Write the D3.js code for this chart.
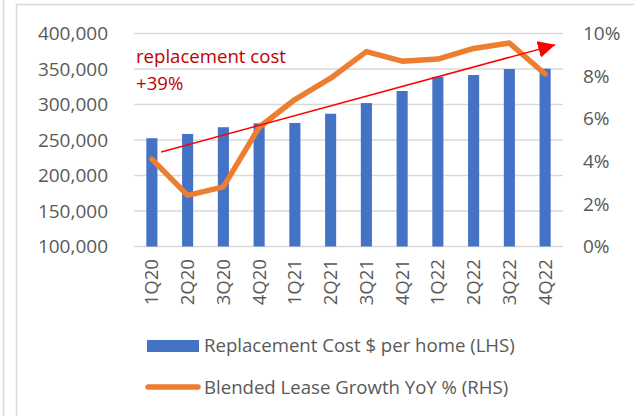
<!DOCTYPE html>
<html>
<head>
<meta charset="utf-8">
<script src="https://cdn.jsdelivr.net/npm/d3@7"></script>
<style>
  body { margin: 0; background: #fff; }
  text { font-family: "Open Sans", sans-serif; }
</style>
</head>
<body>
<svg id="chart" width="634" height="416"></svg>
<script>
const quarters = ["1Q20", "2Q20", "3Q20", "4Q20", "1Q21", "2Q21", "3Q21", "4Q21", "1Q22", "2Q22", "3Q22", "4Q22"];
const replacementCost = [252500, 258500, 268000, 273500, 274000, 287000, 302000, 319000, 339000, 341500, 350000, 350500];
const leaseGrowth = [4.1, 2.4, 2.8, 5.6, 6.9, 7.9, 9.15, 8.7, 8.8, 9.3, 9.55, 8.1];
const leftTicks = [100000, 150000, 200000, 250000, 300000, 350000, 400000];
const rightTicks = [0, 2, 4, 6, 8, 10];
// trend arrow: [quarter index, replacement cost]
const arrowFrom = [0.26, 233000];
const arrowTo = [11.28, 384000];

const plot = { left: 134, right: 563, top: 33.5, bottom: 246.5 };
const grey = "#595959";
const fs = 18.6;

const svg = d3.select("#chart");

// frame lines
svg.append("line").attr("x1", 3.5).attr("x2", 3.5).attr("y1", 0).attr("y2", 416)
  .attr("stroke", "#d9d9d9").attr("stroke-width", 1.5);
svg.append("line").attr("x1", 16.5).attr("x2", 16.5).attr("y1", 4).attr("y2", 416)
  .attr("stroke", "#d9d9d9").attr("stroke-width", 1.5);
svg.append("line").attr("x1", 16).attr("x2", 634).attr("y1", 4.5).attr("y2", 4.5)
  .attr("stroke", "#d9d9d9").attr("stroke-width", 1.5);

const x = d3.scaleBand().domain(quarters).range([plot.left, plot.right]).paddingInner(0.69).paddingOuter(0.345);
const xc = d => x(d) + x.bandwidth() / 2;
const xIdx = d3.scaleLinear().domain([0, quarters.length - 1]).range([xc(quarters[0]), xc(quarters[quarters.length - 1])]);
const yL = d3.scaleLinear().domain([100000, 400000]).range([plot.bottom, plot.top]);
const yR = d3.scaleLinear().domain([0, 10]).range([plot.bottom, plot.top]);

// gridlines
svg.append("g").selectAll("line").data(leftTicks).enter().append("line")
  .attr("x1", plot.left).attr("x2", plot.right)
  .attr("y1", d => yL(d)).attr("y2", d => yL(d))
  .attr("stroke", "#d9d9d9").attr("stroke-width", 1.5);

// left axis labels
svg.append("g").selectAll("text").data(leftTicks).enter().append("text")
  .attr("x", 108).attr("y", d => yL(d)).attr("dy", "0.35em")
  .attr("text-anchor", "end").attr("font-size", 19).attr("fill", grey)
  .text(d3.format(","));

// right axis labels
svg.append("g").selectAll("text").data(rightTicks).enter().append("text")
  .attr("x", 583).attr("y", d => yR(d)).attr("dy", "0.35em")
  .attr("font-size", 19).attr("fill", grey)
  .text(d => d + "%");

// bars
svg.append("g").selectAll("rect").data(quarters).enter().append("rect")
  .attr("x", d => x(d))
  .attr("width", x.bandwidth())
  .attr("y", (d, i) => yL(replacementCost[i]))
  .attr("height", (d, i) => plot.bottom - yL(replacementCost[i]))
  .attr("fill", "#4472C4");

// x labels
svg.append("g").selectAll("text").data(quarters).enter().append("text")
  .attr("transform", d => `translate(${xc(d)},259) rotate(-90)`)
  .attr("dy", "0.35em").attr("text-anchor", "end")
  .attr("font-size", fs).attr("fill", grey)
  .text(d => d);

// lease growth line
const line = d3.line().x((d, i) => xc(quarters[i])).y(d => yR(d));
svg.append("path").datum(leaseGrowth)
  .attr("d", line).attr("fill", "none")
  .attr("stroke", "#ED7D31").attr("stroke-width", 5.5)
  .attr("stroke-linejoin", "round").attr("stroke-linecap", "round");

// trend arrow
svg.append("defs").append("marker")
  .attr("id", "head").attr("viewBox", "0 0 10 10")
  .attr("refX", 10).attr("refY", 5)
  .attr("markerUnits", "userSpaceOnUse")
  .attr("markerWidth", 17).attr("markerHeight", 17)
  .attr("orient", "auto")
  .append("path").attr("d", "M0,0 L10,5 L0,10 Z").attr("fill", "#FF0000");
svg.append("line")
  .attr("x1", xIdx(arrowFrom[0])).attr("y1", yL(arrowFrom[1]))
  .attr("x2", xIdx(arrowTo[0])).attr("y2", yL(arrowTo[1]))
  .attr("stroke", "#FF0000").attr("stroke-width", 1.5)
  .attr("marker-end", "url(#head)");

// annotation
svg.append("text").attr("x", 136).attr("y", 63)
  .attr("font-size", fs).attr("fill", "#C00000").text("replacement cost");
svg.append("text").attr("x", 136).attr("y", 90)
  .attr("font-size", fs).attr("fill", "#C00000").text("+39%");

// legend
svg.append("rect").attr("x", 147).attr("y", 340).attr("width", 52).attr("height", 12)
  .attr("fill", "#4472C4");
svg.append("text").attr("x", 204).attr("y", 352)
  .attr("font-size", fs).attr("fill", grey).text("Replacement Cost $ per home (LHS)");
svg.append("line").attr("x1", 148).attr("x2", 198).attr("y1", 387).attr("y2", 387)
  .attr("stroke", "#ED7D31").attr("stroke-width", 5.5).attr("stroke-linecap", "round");
svg.append("text").attr("x", 204).attr("y", 394)
  .attr("font-size", fs).attr("fill", grey).text("Blended Lease Growth YoY % (RHS)");
</script>
</body>
</html>
